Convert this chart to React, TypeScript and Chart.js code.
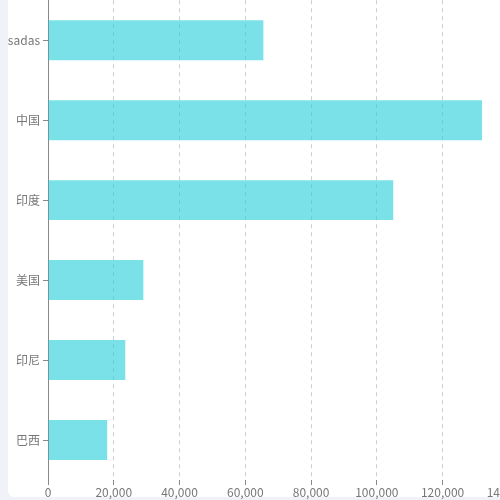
import { useEffect, useRef } from "react";
import { Chart, registerables, ChartConfiguration } from "chart.js";

Chart.register(...registerables);

const categories = ["sadas", "中国", "印度", "美国", "印尼", "巴西"];
const population = [65500, 132000, 105000, 29000, 23500, 18000];
const xMin = 0;
const xMax = 140000;
const xStep = 20000;

const labelColor = "#777";
const axisColor = "#888";
const font = { family: "'Noto Sans CJK SC', 'Noto Sans', sans-serif", size: 12 };

function PopulationChart() {
  const canvasRef = useRef<HTMLCanvasElement>(null);
  const chartRef = useRef<Chart | null>(null);

  useEffect(() => {
    if (!canvasRef.current) return;
    if (chartRef.current) chartRef.current.destroy();

    const config: ChartConfiguration = {
      type: "bar",
      data: {
        labels: categories,
        datasets: [{
          data: population,
          backgroundColor: "rgba(33, 205, 217, 0.6)",
          borderWidth: 0,
          barPercentage: 1,
          categoryPercentage: 0.5,
        }],
      },
      options: {
        indexAxis: "y",
        animation: false,
        responsive: true,
        maintainAspectRatio: false,
        layout: { padding: 0 },
        plugins: {
          legend: { display: false },
          tooltip: { enabled: false },
        },
        scales: {
          x: {
            min: xMin,
            max: xMax,
            afterFit: (scale) => { scale.height = 20; },
            ticks: {
              stepSize: xStep,
              color: labelColor,
              font,
              padding: 0,
              maxRotation: 0,
              callback: (v) => Number(v).toLocaleString("en-US"),
            },
            grid: {
              color: "#cfcfcf",
              tickColor: axisColor,
              tickLength: 5,
              tickBorderDash: [],
            },
            border: { display: false, dash: [4, 4] },
          },
          y: {
            afterFit: (scale) => { scale.width = 48; },
            ticks: { color: labelColor, font, padding: 3 },
            grid: {
              offset: false,
              drawOnChartArea: false,
              tickColor: axisColor,
              tickLength: 5,
            },
            border: { display: true, color: axisColor, width: 1 },
          },
        },
      },
    };

    chartRef.current = new Chart(canvasRef.current, config);
    return () => {
      chartRef.current?.destroy();
      chartRef.current = null;
    };
  }, []);

  return <canvas ref={canvasRef} />;
}

export default function App() {
  return (
    <div style={{ position: "fixed", inset: 0, background: "#f1f2f7", overflow: "hidden" }}>
      <div
        style={{
          position: "absolute",
          left: 8,
          top: -10,
          width: 580,
          height: 507,
          background: "#fff",
          borderRadius: 6,
        }}
      />
      <div style={{ position: "absolute", left: 0, top: -10, width: 530, height: 510 }}>
        <PopulationChart />
      </div>
    </div>
  );
}
